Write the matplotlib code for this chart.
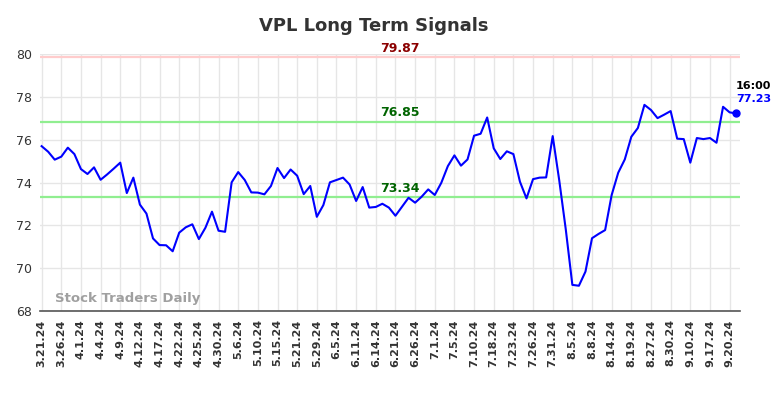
import numpy as np
import matplotlib.pyplot as plt

TITLE = "VPL Long Term Signals"

# closing values, one per trading day
prices = [
    75.70, 75.44, 75.07, 75.21, 75.63, 75.33, 74.63, 74.40, 74.71, 74.13,
    74.38, 74.65, 74.93, 73.51, 74.23, 72.97, 72.55, 71.39, 71.08, 71.07,
    70.79, 71.66, 71.91, 72.05, 71.36, 71.89, 72.64, 71.75, 71.70, 74.01,
    74.49, 74.12, 73.54, 73.53, 73.45, 73.84, 74.68, 74.21, 74.61, 74.32,
    73.46, 73.84, 72.40, 72.95, 74.01, 74.12, 74.23, 73.91, 73.14, 73.79,
    72.83, 72.86, 73.01, 72.83, 72.45, 72.87, 73.29, 73.06, 73.34, 73.68,
    73.42, 73.99, 74.77, 75.27, 74.79, 75.08, 76.19, 76.28, 77.04, 75.60,
    75.10, 75.46, 75.33, 74.04, 73.26, 74.16, 74.23, 74.24, 76.17, 74.10,
    71.80, 69.22, 69.18, 69.84, 71.40, 71.60, 71.78, 73.42, 74.46, 75.08,
    76.14, 76.55, 77.63, 77.39, 77.01, 77.17, 77.34, 76.05, 76.03, 74.93,
    76.08, 76.03, 76.08, 75.86, 77.54, 77.28, 77.23,
]

tick_labels = [
    "3.21.24", "3.26.24", "4.1.24", "4.4.24", "4.9.24", "4.12.24",
    "4.17.24", "4.22.24", "4.25.24", "4.30.24", "5.6.24", "5.10.24",
    "5.15.24", "5.21.24", "5.29.24", "6.5.24", "6.11.24", "6.14.24",
    "6.21.24", "6.26.24", "7.1.24", "7.5.24", "7.10.24", "7.18.24",
    "7.23.24", "7.26.24", "7.31.24", "8.5.24", "8.8.24", "8.14.24",
    "8.19.24", "8.27.24", "8.30.24", "9.10.24", "9.17.24", "9.20.24",
]

resistance = 79.87
upper_support = 76.85
lower_support = 73.34
last_time = "16:00"


def main():
    x = np.arange(len(prices))
    tick_pos = np.arange(len(tick_labels)) * 3

    fig = plt.figure(figsize=(7.84, 3.98), dpi=100)
    ax = fig.add_axes([0.051, 0.2186, 0.893, 0.6454])

    ax.set_xlim(-0.25, 106.6)
    ax.set_ylim(68, 80)

    ax.grid(True, color="#e6e6e6", linewidth=1)
    ax.set_axisbelow(True)

    # signal levels
    ax.axhline(resistance, color="#ffcccc", linewidth=1.6, zorder=2)
    ax.axhline(upper_support, color="#90ee90", linewidth=1.6, zorder=2)
    ax.axhline(lower_support, color="#90ee90", linewidth=1.6, zorder=2)

    mid = 54.6
    ax.text(mid, resistance + 0.1, f"{resistance:.2f}", color="#8b0000",
            fontsize=9, fontweight="bold", ha="center", va="bottom")
    ax.text(mid, upper_support + 0.1, f"{upper_support:.2f}", color="#006400",
            fontsize=9, fontweight="bold", ha="center", va="bottom")
    ax.text(mid, lower_support + 0.1, f"{lower_support:.2f}", color="#006400",
            fontsize=9, fontweight="bold", ha="center", va="bottom")

    ax.plot(x, prices, color="#0000ff", linewidth=1.5, zorder=3)
    ax.plot(x[-1], prices[-1], "o", color="#0000ff", markersize=5, zorder=4)

    ax.annotate(last_time, xy=(x[-1], prices[-1]), xytext=(0, 16),
                textcoords="offset points", ha="left", va="bottom",
                fontsize=8, fontweight="bold", color="black",
                annotation_clip=False)
    ax.annotate(f"{prices[-1]:.2f}", xy=(x[-1], prices[-1]), xytext=(0, 6.5),
                textcoords="offset points", ha="left", va="bottom",
                fontsize=8, fontweight="bold", color="#0000ff",
                annotation_clip=False)

    ax.text(2, 68.3, "Stock Traders Daily", color="#a0a0a0",
            fontsize=9.5, fontweight="bold", ha="left", va="bottom")

    ax.set_xticks(tick_pos)
    ax.set_xticklabels(tick_labels, rotation=90, fontsize=8,
                       fontweight="bold", color="#333333")
    ax.set_yticks([68, 70, 72, 74, 76, 78, 80])
    ax.tick_params(axis="y", labelsize=9, labelcolor="#333333", length=0, pad=6)
    ax.tick_params(axis="x", length=0, pad=6)

    for side in ["top", "right", "left"]:
        ax.spines[side].set_visible(False)
    ax.spines["bottom"].set_color("#555555")
    ax.spines["bottom"].set_linewidth(1.2)

    fig.text(0.477, 0.935, TITLE, ha="center", va="center", fontsize=13,
             fontweight="bold", color="#333333")

    fig.savefig("out.png", dpi=100)
    plt.close(fig)


if __name__ == "__main__":
    main()
